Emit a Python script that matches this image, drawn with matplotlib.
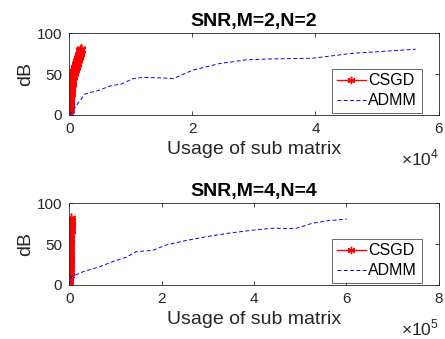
import matplotlib
matplotlib.use("Agg")
import matplotlib.pyplot as plt
from matplotlib.ticker import FuncFormatter

plt.rcParams['font.family'] = ['Liberation Sans', 'DejaVu Sans']
plt.rcParams['mathtext.fontset'] = 'custom'
plt.rcParams['mathtext.rm'] = 'Liberation Sans'

# ---- data: top panel (M=2, N=2) ----
csgd1_x = [0, 10, 20, 30, 40, 50, 60, 70, 80, 90, 100, 115, 130, 145, 160, 175, 190,
           205, 220, 240, 260, 280, 300, 325, 350, 375, 400, 430, 460, 490, 520, 555,
           590, 625, 660, 700, 740, 780, 820, 860, 900, 940, 980, 1020, 1060, 1100,
           1140, 1180, 1220, 1260, 1300, 1340, 1380, 1420, 1460, 1500, 1540, 1580,
           1620, 1660, 1700, 1740, 1780, 1820, 1860, 1890, 1920]
csgd1_y = [0, 1.5, 3, 4.5, 6, 7.5, 9, 10.5, 12, 13.5, 15, 16.5, 18, 19.5, 21, 22.5,
           24, 25.5, 27, 28.5, 30, 31.5, 33, 34.5, 36, 37.5, 39, 40.5, 42, 43.5, 45,
           46.5, 48, 49, 50, 51, 52, 53, 54, 55, 56, 57, 58, 59, 60, 61, 62, 63, 64,
           65, 66, 67, 68, 69, 70, 71, 72, 73, 74, 75, 76, 77, 78, 79, 80, 80.5, 81]
admm1_x = [0, 2540, 4970, 6600, 8490, 10380, 12000, 15500, 16860, 20100, 24430,
           28760, 32000, 39560, 46050, 56300]
admm1_y = [0, 25.7, 30.6, 35.5, 38, 44.5, 46, 45.3, 44.5, 55, 63, 67.5, 68.5, 69.5,
           75.5, 80.5]

# ---- data: bottom panel (M=4, N=4) ----
csgd2_x = [0, 60, 120, 180, 240, 300, 360, 420, 480, 540, 600, 660, 720, 780, 840,
           900, 960, 1020, 1080, 1140, 1200, 1260, 1320, 1380, 1440, 1500, 1560, 1620,
           1680, 1740, 1800, 1880, 1960, 2040, 2120, 2200, 2280, 2360, 2440, 2520,
           2600, 2680, 2760, 2840, 2920, 3000, 3080, 3160, 3240, 3320, 3400, 3500]
csgd2_y = [0, 1.6, 3.2, 4.8, 6.4, 8, 9.6, 11.2, 12.8, 14.4, 16, 17.6, 19.2, 20.8,
           22.4, 24, 25.6, 27.2, 28.8, 30.4, 32, 33.6, 35.2, 36.8, 38.4, 40, 41.6,
           43.2, 44.8, 46.4, 48, 49.6, 51.2, 52.8, 54.4, 56, 57.6, 59.2, 60.8, 62.4,
           64, 65.6, 67.2, 68.8, 70.4, 72, 73.6, 75.2, 76.8, 78.4, 80, 81.5]
admm2_x = [0, 5000, 30000, 66000, 94000, 123000, 145000, 181000, 210000, 253000,
           296000, 346000, 396000, 440000, 490000, 526000, 562000, 601000]
admm2_y = [0, 10.2, 16.3, 22.4, 28.6, 33.9, 40.8, 42.5, 49, 54.5, 59, 63.5, 67,
           69.5, 69, 75.5, 78.8, 80.5]

titles = ['SNR,M=2,N=2', 'SNR,M=4,N=4']
xmax = [6e4, 8e5]
xticks = [[0, 2e4, 4e4, 6e4], [0, 2e5, 4e5, 6e5, 8e5]]
exps = [4, 5]
series = [(csgd1_x, csgd1_y, admm1_x, admm1_y), (csgd2_x, csgd2_y, admm2_x, admm2_y)]

W, H = 445, 339
fig = plt.figure(figsize=(W / 100, H / 100), dpi=100)
axes_px = [(69.3, 33.3, 438.5, 115.0), (69.3, 203.3, 438.5, 285.0)]
grey = '#262626'
asterisk = (6, 2, 0)

for i, (l, t, r, b) in enumerate(axes_px):
    ax = fig.add_axes([l / W, 1 - b / H, (r - l) / W, (b - t) / H])
    cx, cy, ax_, ay_ = series[i]
    ax.plot(cx, cy, color='red', marker=asterisk, markersize=7, linewidth=1.0,
            markeredgewidth=1.0, label='CSGD')
    ax.plot(ax_, ay_, color='blue', linestyle=(0, (4, 2.5)), linewidth=0.7,
            label='ADMM')
    ax.set_xlim(0, xmax[i])
    ax.set_ylim(0, 100)
    ax.set_xticks(xticks[i])
    ax.set_yticks([0, 50, 100])
    e = exps[i]
    ax.xaxis.set_major_formatter(FuncFormatter(lambda v, p, e=e: f'{v / 10**e:g}'))
    ax.tick_params(direction='in', length=3, width=0.6, colors=grey,
                   labelsize=11, top=True, right=True, pad=5)
    for s in ax.spines.values():
        s.set_color(grey)
        s.set_linewidth(0.6)
    ax.set_title(titles[i], fontsize=14, fontweight='bold', pad=5, color='black')
    ax.set_ylabel('dB', fontsize=14, color=grey, labelpad=2)
    ax.set_xlabel('Usage of sub matrix', fontsize=14, color=grey, labelpad=4)
    ax.text(1.002, -0.62, r'$\times$10$^{%d}$' % e, transform=ax.transAxes,
            ha='right', va='baseline', fontsize=12.5, color=grey)
    leg = ax.legend(loc='lower right', bbox_to_anchor=(0.955, 0.025), fontsize=11.5,
                    frameon=True, fancybox=False, handlelength=1.8,
                    handletextpad=0.15, borderpad=0.3, labelspacing=0.3,
                    borderaxespad=0.0, markerscale=0.75)
    leg.get_frame().set_edgecolor(grey)
    leg.get_frame().set_linewidth(0.6)

fig.savefig('out.png', dpi=100)
